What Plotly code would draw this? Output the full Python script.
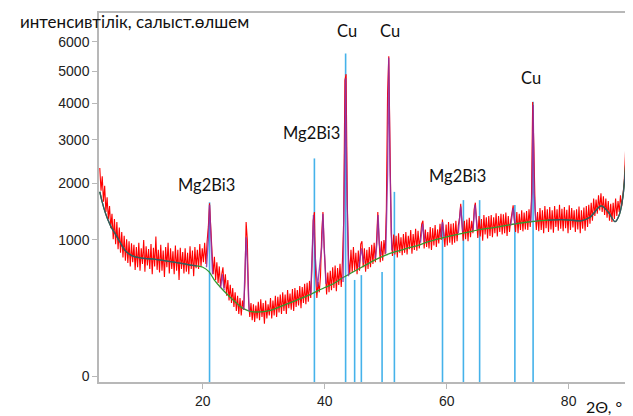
import numpy as np
import plotly.graph_objects as go

# ---------------- data ----------------
# observed pattern, 2theta from 3.1 deg in 0.2 deg steps (counts)
start_2theta = 3.1
step_2theta = 0.2
observed = [
    2330, 1850, 2150, 1640, 1950, 1450, 1720, 1330, 1560, 1180,   # 3.1
    1420, 1010, 1330, 940, 1280, 870, 1190, 820, 1120, 760,       # 5.1
    1060, 720, 1010, 690, 980, 650, 950, 700, 930, 610,           # 7.1
    900, 640, 960, 600, 880, 680, 1000, 590, 910, 660,            # 9.1
    870, 620, 940, 560, 890, 650, 1050, 610, 860, 580,            # 11.1
    930, 600, 850, 530, 900, 640, 960, 570, 880, 620,             # 13.1
    840, 560, 920, 600, 860, 500, 890, 620, 830, 570,             # 15.1
    880, 590, 820, 560, 910, 620, 850, 540, 900, 630,             # 17.1
    860, 620, 940, 650, 880, 700, 960, 680, 980, 1200,            # 19.1
    1610, 1250, 820, 560, 770, 500, 700, 470, 650, 430,           # 21.1
    560, 640, 420, 560, 350, 500, 310, 450, 290, 420,             # 23.1
    260, 380, 230, 350, 210, 330, 200, 310, 240, 480,             # 25.1
    1280, 1000, 300, 190, 290, 170, 280, 160, 270, 180,           # 27.1
    300, 170, 320, 190, 290, 150, 310, 180, 280, 200,             # 29.1
    330, 180, 310, 200, 350, 190, 340, 220, 360, 210,             # 31.1
    380, 230, 360, 210, 400, 250, 370, 240, 410, 230,             # 33.1
    420, 260, 400, 270, 440, 250, 430, 290, 460, 280,             # 35.1
    470, 300, 490, 330, 650, 1300, 1450, 560, 330, 480,           # 37.1
    380, 540, 1100, 1450, 900, 560, 360, 580, 380, 600,           # 39.1
    400, 640, 420, 660, 390, 630, 450, 680, 430, 720,             # 41.1
    1300, 4700, 4900, 1600, 760, 560, 860, 580, 900, 600,         # 43.1
    820, 560, 850, 600, 940, 980, 640, 880, 590, 860,             # 45.1
    620, 900, 640, 930, 680, 960, 700, 1000, 1450, 1000,          # 47.1
    700, 980, 720, 1000, 800, 1500, 4300, 5500, 2900, 1100,       # 49.1
    780, 1080, 800, 1060, 760, 1100, 820, 1040, 790, 1090,        # 51.1
    820, 1120, 800, 1060, 870, 1150, 810, 1090, 860, 1170,        # 53.1
    850, 1140, 880, 1100, 1250, 1300, 880, 1160, 900, 1120,       # 55.1
    880, 1200, 860, 1180, 920, 1230, 900, 1160, 950, 1250,        # 57.1
    1000, 1320, 1050, 900, 1240, 920, 1280, 960, 1250, 930,       # 59.1
    1260, 960, 1300, 980, 1220, 1350, 1600, 1250, 990, 1300,      # 61.1
    1010, 1320, 980, 1350, 1040, 1300, 1100, 1500, 1620, 1300,    # 63.1
    1030, 1380, 1050, 1330, 990, 1400, 1080, 1360, 1020, 1380,    # 65.1
    1060, 1400, 1040, 1360, 1100, 1430, 1050, 1380, 1120, 1420,   # 67.1
    1080, 1410, 1100, 1440, 1060, 1380, 1120, 1300, 1450, 1570,   # 69.1
    1300, 1120, 1450, 1100, 1420, 1150, 1480, 1130, 1440, 1160,   # 71.1
    1470, 1150, 1500, 1200, 1700, 4040, 2800, 1500, 1150, 1450,   # 73.1
    1130, 1520, 1150, 1480, 1100, 1560, 1180, 1500, 1120, 1540,   # 75.1
    1160, 1480, 1110, 1560, 1200, 1500, 1140, 1580, 1170, 1510,   # 77.1
    1130, 1540, 1180, 1490, 1100, 1570, 1150, 1520, 1190, 1480,   # 79.1
    1120, 1500, 1160, 1550, 1100, 1480, 1170, 1530, 1140, 1560,   # 81.1
    1200, 1580, 1250, 1620, 1300, 1700, 1380, 1680, 1420, 1760,   # 83.1
    1480, 1800, 1450, 1740, 1400, 1700, 1350, 1650, 1300, 1600,   # 85.1
    1280, 1620, 1330, 1700, 1380, 1650, 1450, 1760, 1550, 1800,   # 87.1
    2000, 2600, 3300, 4300, 5800,                                 # 89.1
]

# fitted background
bg_2theta = [3.1, 3.5, 4.0, 4.5, 5.0, 5.6, 6.4, 7.2, 8.0, 8.9, 10, 12, 13.2, 15, 17,
             18.1, 19, 20, 21, 21.9, 23, 24.4, 25.5, 26.5, 27.3, 28.1, 29.5, 30.9,
             32.5, 34.7, 36.5, 38, 40, 41.2, 43, 45, 46.7, 48, 50, 51.6, 53.5, 55.4,
             57, 60, 62.4, 65, 67.9, 70, 73.4, 76.6, 78.7, 80.5, 82, 83.5, 85.3,
             86.5, 87.6, 88.3, 88.9, 89.3, 89.6, 89.9]
bg_counts = [1830, 1630, 1440, 1300, 1190, 1098, 970, 857, 800, 768, 752, 738, 726, 705, 680,
             665, 655, 640, 590, 499, 420, 341, 290, 251, 235, 225, 224, 232,
             258, 299, 335, 371, 425, 455, 525, 600, 665, 720, 790, 835, 880, 926,
             975, 1045, 1095, 1150, 1192, 1230, 1280, 1311, 1320, 1310, 1300, 1360, 1560,
             1450, 1285, 1400, 1730, 2300, 3000, 3500]

# calculated profile around the reflections (None = gap)
calc_2theta = [20.6, 20.9, 21.1, 21.3, 21.6, None,
               22.9, 23.2, 23.5, None,
               26.7, 26.95, 27.1, 27.3, 27.6, None,
               37.7, 37.95, 38.15, 38.4, 38.8, 39.5, 39.7, 39.9, 40.2, None,
               43.0, 43.25, 43.42, 43.6, 43.9, None,
               45.6, 46.0, 46.4, None,
               48.3, 48.55, 48.74, 48.95, 49.2, None,
               50.0, 50.3, 50.49, 50.7, 51.0, None,
               55.7, 56.05, 56.4, None,
               59.0, 59.31, 59.6, None,
               61.9, 62.3, 62.6, None,
               64.3, 64.65, 65.0, None,
               70.5, 70.9, 71.2, None,
               73.8, 74.0, 74.17, 74.35, 74.6]
calc_counts = [640, 1000, 1575, 1000, 560, None,
               420, 560, 400, None,
               240, 700, 1040, 700, 230, None,
               360, 800, 1400, 800, 430, 900, 1420, 900, 460, None,
               480, 2000, 4770, 2000, 540, None,
               640, 880, 690, None,
               750, 950, 1400, 950, 790, None,
               810, 2200, 5450, 2300, 850, None,
               960, 1250, 980, None,
               1045, 1280, 1050, None,
               1105, 1550, 1125, None,
               1145, 1580, 1165, None,
               1230, 1520, 1245, None,
               1285, 1800, 3950, 1800, 1295]

# reference stick pattern
stick_2theta = [21.1, 38.3, 43.42, 44.9, 46.0, 49.4, 51.42, 59.31, 62.74, 65.4, 71.18, 74.17]
stick_counts = [1628, 2550, 5590, 500, 551, 585, 1828, 1250, 1668, 1668, 1575, 4045]

# phase labels
label_text = ["Mg2Bi3", "Cu", "Cu", "Mg2Bi3", "Mg2Bi3", "Cu"]
label_2theta = [20.55, 43.6, 50.65, 37.8, 61.85, 73.9]
label_counts = [1963, 6390, 6390, 3174, 2152, 4770]

y_tick_counts = [0, 1000, 2000, 3000, 4000, 5000, 6000]
x_tick_vals = [20, 40, 60, 80]

y_title = "интенсивтілік, салыст.өлшем"
x_title = "2Θ, °"

# ---------------- figure ----------------
def sq(v):
    return [None if a is None else float(np.sqrt(a)) for a in v]

two_theta = np.round(start_2theta + step_2theta * np.arange(len(observed)), 2)

Y_RANGE = [-1.27, 84.17]
X_RANGE = [2.97, 89.9]

fig = go.Figure()

# sticks
sx, sy = [], []
for xv, yv in zip(stick_2theta, stick_counts):
    sx += [xv, xv, None]
    sy += [Y_RANGE[0], float(np.sqrt(yv)), None]
fig.add_trace(go.Scatter(x=sx, y=sy, mode="lines",
                         line=dict(color="#45b2ea", width=1.6), hoverinfo="skip"))

# observed
fig.add_trace(go.Scatter(x=two_theta, y=sq(observed), mode="lines",
                         line=dict(color="#ff0000", width=1.1)))

# background (green)
fig.add_trace(go.Scatter(x=bg_2theta, y=sq(bg_counts), mode="lines",
                         line=dict(color="#2f9a2f", width=1.3, shape="spline", smoothing=0.8)))

# dark parts of background line at both ends
for lo, hi in [(0, 19.5), (75.0, 100)]:
    idx = [i for i, xv in enumerate(bg_2theta) if lo <= xv <= hi]
    fig.add_trace(go.Scatter(x=[bg_2theta[i] for i in idx],
                             y=sq([bg_counts[i] for i in idx]), mode="lines",
                             line=dict(color="#3a5064", width=1.3, shape="spline", smoothing=0.8)))

# calculated peaks
fig.add_trace(go.Scatter(x=calc_2theta, y=sq(calc_counts), mode="lines",
                         line=dict(color="#8e2fa6", width=1.4), opacity=0.85,
                         connectgaps=False))

for txt, xv, yv in zip(label_text, label_2theta, label_counts):
    fig.add_annotation(x=xv, y=float(np.sqrt(yv)), text=txt, showarrow=False,
                       font=dict(family="Lato", size=16.5, color="#111111"),
                       xanchor="center", yanchor="middle")

fig.add_annotation(xref="paper", yref="paper", x=-0.152, y=0.9775, text=y_title,
                   showarrow=False, xanchor="left", yanchor="middle",
                   font=dict(family="Lato", size=17, color="#111111"))
fig.add_annotation(xref="paper", yref="paper", x=0.953, y=-0.066, text=x_title,
                   showarrow=False, xanchor="center", yanchor="middle",
                   font=dict(family="Lato", size=16, color="#111111"))

axis_common = dict(showgrid=False, zeroline=False, showline=True, linecolor="#b8b8b8",
                   linewidth=1.5, mirror=True, ticks="outside", ticklen=5,
                   tickcolor="#b8b8b8", tickwidth=1,
                   tickfont=dict(family="Liberation Sans, Arial", size=14, color="#222222"))

fig.update_xaxes(range=X_RANGE, tickvals=x_tick_vals, ticktext=[str(v) for v in x_tick_vals],
                 **axis_common)
fig.update_yaxes(range=Y_RANGE, tickvals=sq(y_tick_counts),
                 ticktext=[str(v) for v in y_tick_counts], **axis_common)

# the page body adds an 8 px offset, so the figure is sized to end at the window edge
fig.update_layout(width=625, height=408, margin=dict(l=91, r=2, t=5, b=34),
                  paper_bgcolor="white", plot_bgcolor="white", showlegend=False)

fig.write_html("out.html")
